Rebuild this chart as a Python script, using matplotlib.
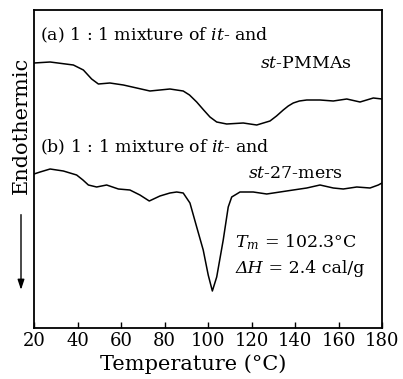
import matplotlib
matplotlib.use("Agg")
import matplotlib.pyplot as plt

# DSC traces (temperature in C, heat flow in arbitrary units)
temp_a = [20.0, 27.4, 38.1, 42.7, 46.5, 49.6, 54.9, 61.1, 67.2, 73.3, 82.5,
          88.6, 91.5, 94.8, 98.0, 100.9, 104.0, 108.6, 116.2, 122.4, 128.5,
          131.5, 134.6, 136.9, 139.2, 142.0, 145.4, 151.5, 157.6, 163.8,
          169.9, 176.0, 180.0]
flow_a = [26.5, 26.6, 26.3, 25.8, 24.9, 24.4, 24.5, 24.3, 24.0, 23.7, 23.9,
          23.7, 23.3, 22.6, 21.8, 21.1, 20.6, 20.4, 20.5, 20.3, 20.7,
          21.2, 21.8, 22.2, 22.5, 22.7, 22.8, 22.8, 22.7, 22.9,
          22.6, 23.0, 22.9]

temp_b = [20.0, 22.8, 27.4, 33.5, 39.6, 42.5, 45.0, 48.8, 53.4, 58.8, 64.1,
          68.7, 73.0, 77.9, 82.5, 85.6, 88.6, 91.7, 94.8, 97.8, 100.1, 102.0,
          104.0, 107.0, 109.3, 110.9, 113.2, 114.7, 120.8, 127.0, 133.1,
          139.2, 145.4, 151.5, 157.6, 162.2, 168.4, 174.5, 178.3, 180.0]
flow_b = [15.4, 15.6, 15.9, 15.7, 15.3, 14.8, 14.3, 14.1, 14.3, 13.9, 13.8,
          13.3, 12.7, 13.2, 13.5, 13.6, 13.5, 12.5, 10.1, 7.8, 5.3, 3.7,
          5.1, 8.8, 12.1, 13.1, 13.4, 13.6, 13.6, 13.4, 13.6,
          13.8, 14.0, 14.3, 14.0, 13.9, 14.1, 14.0, 14.3, 14.5]

xticks = [20, 40, 60, 80, 100, 120, 140, 160, 180]

plt.rcParams["font.family"] = ["DejaVu Serif"]
plt.rcParams["mathtext.fontset"] = "dejavuserif"

fig = plt.figure(figsize=(4.03, 3.79), dpi=100)
ax = fig.add_axes([34 / 403, 51 / 379, 348 / 403, 318 / 379])

ax.plot(temp_a, flow_a, color="black", lw=1.1)
ax.plot(temp_b, flow_b, color="black", lw=1.1)

ax.set_xlim(20, 180)
ax.set_ylim(0, 31.8)
ax.set_xticks(xticks)
ax.set_yticks([])
ax.tick_params(axis="x", direction="in", length=4, width=1, labelsize=13, pad=3)
for s in ax.spines.values():
    s.set_linewidth(1.3)

fs = 12.5
ax.text(0.017, 0.921, "(a) 1 : 1 mixture of $it$- and", transform=ax.transAxes,
        fontsize=fs, va="center", ha="left")
ax.text(0.914, 0.832, "$st$-PMMAs", transform=ax.transAxes,
        fontsize=fs, va="center", ha="right")
ax.text(0.017, 0.569, "(b) 1 : 1 mixture of $it$- and", transform=ax.transAxes,
        fontsize=fs, va="center", ha="left")
ax.text(0.888, 0.487, "$st$-27-mers", transform=ax.transAxes,
        fontsize=fs, va="center", ha="right")
ax.text(0.578, 0.270, "$T_m$ = 102.3°C", transform=ax.transAxes,
        fontsize=fs, va="center", ha="left")
# italic Delta-H, then the rest of the line attached to its right edge
dh = ax.text(0.578, 0.172, "ΔH", transform=ax.transAxes, fontsize=fs,
             fontstyle="italic", va="baseline", ha="left")
ax.annotate(" = 2.4 cal/g", xy=(1, 0), xycoords=dh, fontsize=fs,
            va="bottom", ha="left")

fig.text(0.48, 0.040, "Temperature (°C)", fontsize=15, ha="center", va="center")
fig.text(21 / 403, 0.670, "Endothermic", fontsize=15, rotation=90,
         ha="center", va="center")
fig.add_artist(matplotlib.patches.FancyArrowPatch(
    (21 / 403, 0.441), (21 / 403, 0.228), transform=fig.transFigure,
    arrowstyle="-|>,head_length=6,head_width=2", color="black", lw=1.0))

fig.savefig("out.png", dpi=100)
